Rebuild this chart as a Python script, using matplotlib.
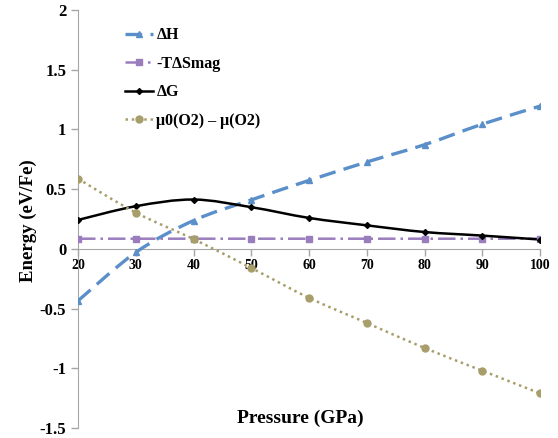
import numpy as np
import matplotlib
matplotlib.use('Agg')
import matplotlib.pyplot as plt
from matplotlib.path import Path
from matplotlib.patches import PathPatch
from matplotlib.lines import Line2D

plt.rcParams['font.family'] = ['Liberation Serif', 'DejaVu Serif']
plt.rcParams['font.weight'] = 'bold'

pressure = [20, 30, 40, 50, 60, 70, 80, 90, 100]
dH = [-0.435, -0.03, 0.237, 0.41, 0.573, 0.727, 0.872, 1.044, 1.195]
tds = [0.085, 0.085, 0.085, 0.085, 0.085, 0.085, 0.085, 0.085, 0.085]
dG = [0.242, 0.357, 0.413, 0.349, 0.259, 0.197, 0.141, 0.111, 0.078]
mu = [0.587, 0.304, 0.082, -0.16, -0.41, -0.62, -0.83, -1.02, -1.21]

names = ['ΔH', '-TΔSmag', 'ΔG', 'μ0(O2) – μ(O2)']
colors = ['#5B8FC9', '#9A7DBD', '#000000', '#A89E6C']
styles = [(0, (5, 2.5)), (0, (7, 2, 1, 2)), '-', (0, (1, 1.5))]
widths = [2.4, 1.8, 1.8, 1.8]
markers = ['^', 's', 'D', 'o']
msizes = [4.5, 4.5, 3, 5]


def smooth_path(x, y):
    # Excel-style smoothed line as cubic Bezier segments
    pts = np.column_stack([x, y]).astype(float)
    verts = [pts[0]]
    codes = [Path.MOVETO]
    n = len(pts)
    for i in range(n - 1):
        p0 = pts[i - 1] if i > 0 else pts[i]
        p1 = pts[i]
        p2 = pts[i + 1]
        p3 = pts[i + 2] if i + 2 < n else pts[i + 1]
        c1 = p1 + (p2 - p0) / 6.0
        c2 = p2 - (p3 - p1) / 6.0
        verts += [c1, c2, p2]
        codes += [Path.CURVE4] * 3
    return Path(verts, codes)


fig = plt.figure(figsize=(5.58, 4.38), dpi=100)
ax = fig.add_axes([78 / 558, 10 / 438, 462 / 558, 418 / 438])

handles = []
for ys, c, ls, lw, m, ms, nm in zip([dH, tds, dG, mu], colors, styles, widths, markers, msizes, names):
    patch = PathPatch(smooth_path(pressure, ys), facecolor='none', edgecolor=c,
                      linestyle=ls, linewidth=lw, zorder=3)
    ax.add_patch(patch)
    ax.plot(pressure, ys, linestyle='none', marker=m, markersize=ms, color=c, zorder=4)
    handles.append(Line2D([], [], color=c, linestyle=ls, linewidth=lw, marker=m, markersize=ms))

ax.set_xlim(20, 100)
ax.set_ylim(-1.5, 2)
ax.set_xticks(pressure)
ax.set_xticklabels([str(p) for p in pressure], fontsize=12, fontweight='bold')
yt = [-1.5, -1, -0.5, 0, 0.5, 1, 1.5, 2]
ax.set_yticks(yt)
ax.set_yticklabels(['-1.5', '-1', '-0.5', '0', '0.5', '1', '1.5', '2'], fontsize=12, fontweight='bold')

gray = '#A6A6A6'
for s in ['top', 'right']:
    ax.spines[s].set_visible(False)
ax.spines['left'].set_color(gray)
ax.spines['bottom'].set_color(gray)
ax.spines['bottom'].set_position(('data', 0))
ax.tick_params(axis='both', colors=gray, labelcolor='black', length=5, width=1)
ax.tick_params(axis='x', pad=2)

fig.text(300 / 558, 1 - 418 / 438, 'Pressure (GPa)', ha='center', va='center',
         fontsize=14, fontweight='bold')
fig.text(28 / 558, 1 - 221 / 438, 'Energy (eV/Fe)', ha='center', va='center',
         rotation=90, fontsize=13.5, fontweight='bold')

leg = ax.legend(handles, names, loc='upper left', bbox_to_anchor=(0.071, 0.993),
                frameon=False, handlelength=1.75, handletextpad=0.2,
                labelspacing=0.78, prop={'weight': 'bold', 'size': 11.5})

fig.savefig('out.png', dpi=100)
